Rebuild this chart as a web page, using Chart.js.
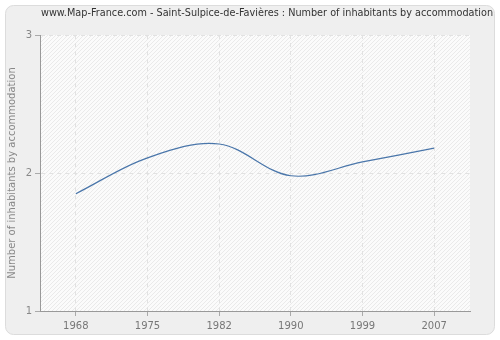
<!DOCTYPE html>
<html>
<head>
<meta charset="utf-8">
<script src="https://cdn.jsdelivr.net/npm/chart.js@4"></script>
<style>
  html, body { margin: 0; padding: 0; background: #fff; }
  #wrap { width: 500px; height: 340px; }
</style>
</head>
<body>
<div id="wrap"><canvas id="myChart" width="500" height="340"></canvas></div>
<script>
// data
const years = ['1968', '1975', '1982', '1990', '1999', '2007'];
const inhabitants = [1.85, 2.11, 2.21, 1.98, 2.08, 2.18];
const yTicks = [1, 2, 3];

const chartTitle = 'www.Map-France.com - Saint-Sulpice-de-Favières : Number of inhabitants by accommodation';
const yTitle = 'Number of inhabitants by accommodation';

// frame, hatched plot background and the title line
const backdrop = {
    id: 'backdrop',
    beforeDraw(chart) {
        const c = chart.ctx;
        c.save();
        c.fillStyle = '#fff';
        c.fillRect(0, 0, chart.width, chart.height);
        c.beginPath();
        c.roundRect(5.5, 5.5, 489, 329, 8);
        c.fillStyle = '#efefef';
        c.fill();
        c.strokeStyle = '#dcdcdc';
        c.lineWidth = 1;
        c.stroke();

        c.fillStyle = '#333';
        c.font = '9.7px "DejaVu Sans"';
        c.textAlign = 'center';
        c.textBaseline = 'middle';
        c.fillText(chartTitle, 267, 13);

        const a = chart.chartArea;
        c.fillStyle = '#fbfbfb';
        c.fillRect(a.left, a.top, a.right - a.left, a.bottom - a.top);
        c.beginPath();
        c.rect(a.left, a.top, a.right - a.left, a.bottom - a.top);
        c.clip();
        c.strokeStyle = '#eaeaea';
        c.lineWidth = 1;
        c.beginPath();
        for (let x = a.left - (a.bottom - a.top); x < a.right; x += 4) {
            c.moveTo(x, a.bottom);
            c.lineTo(x + (a.bottom - a.top), a.top);
        }
        c.stroke();
        c.restore();
    }
};

const ctx = document.getElementById('myChart').getContext('2d');

const Charte = new Chart(ctx, {
    type: 'line',
    data: {
        labels: years,
        datasets: [{
            label: 'inhabitants',
            data: inhabitants,
            borderColor: '#4a76aa',
            borderWidth: 1.2,
            pointRadius: 0,
            tension: 0.35,
            fill: false
        }]
    },
    options: {
        responsive: false,
        animation: false,
        layout: { padding: { left: 6, right: 30, top: 35, bottom: 4 } },
        plugins: {
            legend: { display: false },
            tooltip: { enabled: false },
            title: { display: false }
        },
        scales: {
            x: {
                offset: true,
                border: { color: '#999', width: 1, dash: [4, 4] },
                grid: {
                    offset: false,
                    color: '#e2e2e2',
                    tickColor: '#aaa',
                    tickBorderDash: [],
                    tickLength: 5
                },
                ticks: {
                    color: '#777',
                    font: { family: 'DejaVu Sans', size: 10 },
                    padding: 4,
                    maxRotation: 0
                }
            },
            y: {
                min: 1,
                max: 3,
                afterBuildTicks: s => { s.ticks = yTicks.map(v => ({ value: v })); },
                afterFit: s => { s.width = 34; },
                border: { color: '#999', width: 1, dash: [4, 4] },
                grid: {
                    color: '#e2e2e2',
                    tickColor: '#aaa',
                    tickBorderDash: [],
                    tickLength: 5
                },
                ticks: {
                    color: '#888',
                    font: { family: 'DejaVu Sans', size: 10 },
                    padding: 3
                },
                title: {
                    display: true,
                    text: yTitle,
                    color: '#888',
                    font: { family: 'DejaVu Sans', size: 10 },
                    padding: { top: 0, bottom: 0 }
                }
            }
        }
    },
    plugins: [backdrop]
});
</script>
</body>
</html>
